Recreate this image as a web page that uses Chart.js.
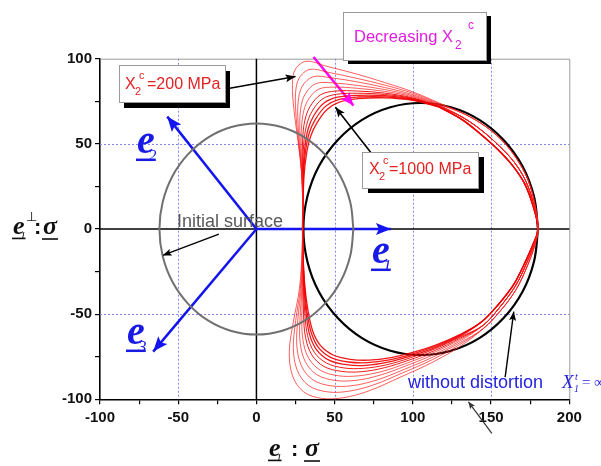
<!DOCTYPE html>
<html><head><meta charset="utf-8">
<script src="https://cdn.jsdelivr.net/npm/chart.js@4.4.0/dist/chart.umd.min.js"></script>
<style>html,body{margin:0;padding:0;background:#fff}#wrap{width:601px;height:466px}</style>
</head><body><div id="wrap"><canvas id="c" width="601" height="466"></canvas></div>
<script>
// ---- data ----
const xTickValues = [-100, -50, 0, 50, 100, 150, 200];
const yTickValues = [-100, -50, 0, 50, 100];
const gridX = [-50, 50, 100, 150];
const gridY = [-50, 50];

// initial surface (grey)
const initialSurface = [[62,0],[59.9,16],[53.7,31],[43.8,43.8],[31,53.7],[16,59.9],[0,62],[-16,59.9],[-31,53.7],[-43.8,43.8],[-53.7,31],[-59.9,16],[-62,0],[-59.9,-16],[-53.7,-31],[-43.8,-43.8],[-31,-53.7],[-16,-59.9],[0,-62],[16,-59.9],[31,-53.7],[43.8,-43.8],[53.7,-31],[59.9,-16],[62,0]];

// surface without distortion (black)
const noDistortion = [[180,0],[177.4,19.2],[170,37],[158,52.3],[142.5,64.1],[124.4,71.5],[105,74],[85.6,71.5],[67.5,64.1],[52,52.3],[40,37],[32.6,19.2],[30,0],[32.6,-19.2],[40,-37],[52,-52.3],[67.5,-64.1],[85.6,-71.5],[105,-74],[124.4,-71.5],[142.5,-64.1],[158,-52.3],[170,-37],[177.4,-19.2],[180,0]];

// right-hand arcs of the distorted surfaces (outer, middle, inner groups)
const rightArcA = [[145,-58.5],[156,-48],[166,-35.5],[173.5,-21],[178,-9.5],[180,0],[178,14.5],[173.5,29],[166.5,41],[157.5,51.5],[146,60.5],[133,67.5]];
const rightArcB = [[145,-56.5],[155.5,-46],[165.5,-33.5],[173,-19.5],[177.5,-9],[180,0],[177.5,13.5],[172.5,27.5],[165,39],[155.5,48.5],[144.5,57.5],[132,65.5]];
const rightArcC = [[144,-54.5],[154.5,-44.5],[164.5,-32.5],[172,-19],[177,-8.5],[180,0],[177,13],[171.5,26.5],[163.5,37.5],[154,47],[143,56],[131,64.5]];

// distorted surfaces, from X2c = 200 MPa (outer) to X2c = 1000 MPa (inner)
const red1 = [[118,73.5],[100,80.5],[82,86],[64,91],[45,95.5],[32,98.5],[25,94],[23,85],[24,70],[26.5,52],[29,32],[29.5,10],[29.2,-12],[27.5,-35],[23.5,-55],[21,-72],[23,-86],[30,-95.5],[42,-99.5],[56,-99],[72,-95],[92,-87],[112,-78.5],[130,-69]];
const red2 = [[118,73.2],[100,79.7],[82,84.5],[64,88.5],[46.4,91.9],[34.2,93.7],[27.3,88.6],[25,79.7],[25.4,65.6],[27.2,48.6],[29.1,29.3],[29.5,8.3],[29.3,-12.7],[28.1,-34.8],[25.1,-53.8],[23.6,-70],[26.1,-83],[33.2,-91.8],[45.1,-95.6],[58.7,-95.3],[74.4,-91.7],[93.4,-84.5],[112.5,-76.7],[130,-67.8]];
const red3 = [[117.5,72.9],[100,78.9],[82,83.1],[64.3,86.4],[47.6,88.8],[36.2,89.4],[29.3,83.8],[26.7,75.1],[26.6,61.7],[27.8,45.6],[29.3,26.9],[29.5,6.8],[29.4,-13.3],[28.6,-34.7],[26.5,-52.8],[25.8,-68.2],[28.8,-80.4],[36.1,-88.6],[47.8,-92.1],[61.1,-92],[76.5,-88.8],[94.6,-82.4],[113,-75.1],[130,-66.8]];
const red4 = [[117.5,72.6],[100,78.2],[82,81.9],[64.5,84.3],[48.7,85.8],[38,85.4],[31.2,79.3],[28.3,70.7],[27.7,58],[28.3,42.8],[29.4,24.6],[29.5,5.4],[29.5,-13.8],[29.1,-34.5],[27.9,-51.8],[27.9,-66.5],[31.3,-78],[38.7,-85.6],[50.3,-88.9],[63.4,-88.9],[78.4,-86],[95.7,-80.3],[113.4,-73.7],[130,-65.8]];
const red5 = [[117.5,72.3],[100,77.6],[82,80.8],[64.6,82.6],[49.6,83.3],[39.5,82],[32.8,75.4],[29.7,67],[28.6,54.9],[28.8,40.4],[29.5,22.7],[29.5,4.2],[29.5,-14.3],[29.5,-34.4],[29,-50.9],[29.7,-65],[33.4,-75.9],[41,-83],[52.4,-86.2],[65.3,-86.2],[80.1,-83.7],[96.6,-78.6],[113.7,-72.4],[130,-64.9]];
const red6 = [[117.5,72.1],[100,77],[82,79.8],[64.7,81],[50.5,81],[41,78.8],[34.3,71.9],[30.9,63.6],[29.5,52.1],[29.3,38.2],[29.6,21],[29.5,3.1],[29.6,-14.8],[29.9,-34.3],[30.1,-50.2],[31.4,-63.7],[35.4,-73.9],[43.1,-80.7],[54.4,-83.6],[67,-83.8],[81.7,-81.5],[97.5,-77],[114.1,-71.3],[130,-64.2]];
const red7 = [[117,71.9],[100,76.6],[82,79],[64.8,79.7],[51.2,79.1],[42.1,76.3],[35.5,69],[32,60.8],[30.2,49.7],[29.6,36.4],[29.6,19.5],[29.5,2.2],[29.7,-15.1],[30.2,-34.2],[30.9,-49.5],[32.7,-62.6],[37,-72.4],[44.8,-78.7],[56,-81.6],[68.5,-81.8],[82.9,-79.8],[98.2,-75.7],[114.3,-70.3],[130,-63.5]];
const red8 = [[117,71.8],[100,76.2],[82,78.3],[64.9,78.5],[51.9,77.4],[43.2,74],[36.6,66.5],[32.9,58.3],[30.9,47.6],[29.9,34.8],[29.7,18.2],[29.5,1.4],[29.7,-15.4],[30.5,-34.1],[31.7,-49],[33.9,-61.7],[38.5,-71],[46.3,-77],[57.5,-79.7],[69.8,-80.1],[84,-78.2],[98.9,-74.5],[114.6,-69.5],[130,-63]];
const red9 = [[117,71.6],[100,75.9],[82,77.6],[64.9,77.5],[52.4,76],[44.1,72],[37.6,64.2],[33.7,56.2],[31.4,45.8],[30.2,33.4],[29.7,17.1],[29.5,0.7],[29.8,-15.7],[30.8,-34.1],[32.3,-48.5],[35,-60.8],[39.7,-69.7],[47.7,-75.5],[58.7,-78.1],[70.9,-78.5],[85,-76.9],[99.4,-73.5],[114.8,-68.7],[130,-62.5]];
const red10 = [[117,71.5],[100,75.5],[82,77],[65,76.5],[53,74.5],[45,70],[38.5,62],[34.5,54],[32,44],[30.5,32],[29.8,16],[29.5,0],[29.8,-16],[31,-34],[33,-48],[36,-60],[41,-68.5],[49,-74],[60,-76.5],[72,-77],[86,-75.5],[100,-72.5],[115,-68],[130,-62]];
const redCurves = [red1, red2, red3, red4, red5, red6, red7, red8, red9, red10];
const redArcs = [rightArcA, rightArcA, rightArcA, rightArcB, rightArcB, rightArcB, rightArcB, rightArcC, rightArcC, rightArcC];

// basis vectors (blue)
const vecE1 = [[0,0],[86,0]];
const vecE2 = [[0,0],[-57,66]];
const vecE3 = [[0,0],[-66,-72]];

// annotation arrows
const arrow200 = [[-18,82.5],[25,89.5]];
const arrow1000 = [[73,45],[50.5,71.5]];
const arrowInitial = [[-24,-3],[-60,-15.5]];
const arrowNoDist = [[159,-87],[164.5,-48.5]];
const arrowBelow = [[150.5,-120],[135.5,-101.5]];
const arrowDecreasing = [[36.5,101],[62,72.5]];

// ---- build chart ----
const pts = a => a.map(p => ({x: p[0], y: p[1]}));
const datasets = [];
const lineDs = (data, color, width, extra) => Object.assign({
  data: pts(data), showLine: true, borderColor: color, borderWidth: width,
  pointRadius: 0, fill: false, tension: 0
}, extra || {});

datasets.push(lineDs(initialSurface, '#707070', 2, {tension: 0.4}));
redCurves.forEach((c, i) => {
  const closed = c.concat(redArcs[i], [c[0]]);
  datasets.push(lineDs(closed, i < 5 ? 'rgba(255,30,30,0.72)' : 'rgba(240,0,0,0.9)', i < 7 ? 1 : 1.3, {tension: 0.35}));
});
datasets.push(lineDs(noDistortion, '#000', 2.2, {tension: 0.4}));
datasets.push(lineDs(vecE1, '#1414f0', 2.5, {arrow: [15, 6]}));
datasets.push(lineDs(vecE2, '#1414f0', 2.5, {arrow: [15, 6]}));
datasets.push(lineDs(vecE3, '#1414f0', 2.5, {arrow: [15, 6]}));
datasets.push(lineDs(arrow200, '#000', 1.6, {arrow: [10, 4], clip: false}));
datasets.push(lineDs(arrow1000, '#000', 1.6, {arrow: [10, 4], clip: false}));
datasets.push(lineDs(arrowInitial, '#000', 1.4, {arrow: [9, 3.5], clip: false}));
datasets.push(lineDs(arrowNoDist, '#000', 1.4, {arrow: [9, 3.5], clip: false}));
datasets.push(lineDs(arrowBelow, '#333', 1.2, {arrow: [7, 3], clip: false}));
datasets.push(lineDs(arrowDecreasing, '#ff00ff', 2.5, {arrow: [13, 5.5], clip: false}));

function drawSupSub(ctx, x, base, sub, sup, subSize, dySub, dySup, supDx, family, color) {
  ctx.font = subSize + 'px ' + family;
  ctx.fillStyle = color;
  ctx.fillText(sub, x, base + dySub);
  ctx.fillText(sup, x + supDx, base - dySup);
}
function box(ctx, x, y, w, h, dx, dy) {
  ctx.fillStyle = '#000';
  ctx.fillRect(x + dx, y + dy, w, h);
  ctx.fillStyle = '#fff';
  ctx.fillRect(x, y, w, h);
  ctx.strokeStyle = '#9a9a9a';
  ctx.lineWidth = 1;
  ctx.strokeRect(x + 0.5, y + 0.5, w, h);
}
function vecLabel(ctx, x, base, digit, size, color) {
  ctx.fillStyle = color;
  ctx.strokeStyle = color;
  ctx.font = 'bold italic ' + size + 'px "Liberation Serif"';
  const w = ctx.measureText('e').width;
  ctx.fillText('e', x, base);
  ctx.font = 'italic ' + Math.round(size * 0.42) + 'px "Liberation Serif"';
  ctx.fillText(digit, x + w * 0.62, base + size * 0.2);
  ctx.lineWidth = Math.max(1.2, size / 16);
  ctx.beginPath();
  ctx.moveTo(x - 1, base + size * 0.17);
  ctx.lineTo(x + w + 1, base + size * 0.17);
  ctx.stroke();
  return w;
}

const deco = {
  id: 'deco',
  beforeDatasetsDraw(chart) {
    const {ctx, chartArea: a, scales: {x, y}} = chart;
    ctx.save();
    ctx.strokeStyle = '#8484ee';
    ctx.lineWidth = 1;
    ctx.setLineDash([2, 2]);
    gridX.forEach(v => {
      const p = Math.round(x.getPixelForValue(v)) + 0.5;
      ctx.beginPath(); ctx.moveTo(p, a.top); ctx.lineTo(p, a.bottom); ctx.stroke();
    });
    gridY.forEach(v => {
      const p = Math.round(y.getPixelForValue(v)) + 0.5;
      ctx.beginPath(); ctx.moveTo(a.left, p); ctx.lineTo(a.right, p); ctx.stroke();
    });
    ctx.setLineDash([]);
    ctx.strokeStyle = '#9a9a9a';
    ctx.beginPath();
    ctx.moveTo(a.left, a.top + 0.5); ctx.lineTo(a.right + 0.5, a.top + 0.5); ctx.lineTo(a.right + 0.5, a.bottom);
    ctx.stroke();
    ctx.strokeStyle = '#000';
    ctx.lineWidth = 1.5;
    const x0 = x.getPixelForValue(0), y0 = y.getPixelForValue(0);
    ctx.beginPath(); ctx.moveTo(x0, a.top); ctx.lineTo(x0, a.bottom); ctx.stroke();
    ctx.beginPath(); ctx.moveTo(a.left, y0); ctx.lineTo(a.right, y0); ctx.stroke();
    ctx.restore();
  },
  afterDatasetsDraw(chart) {
    const ctx = chart.ctx;
    ctx.save();
    chart.data.datasets.forEach((ds, i) => {
      if (!ds.arrow) return;
      const el = chart.getDatasetMeta(i).data;
      const p1 = el[el.length - 2], p2 = el[el.length - 1];
      const ang = Math.atan2(p2.y - p1.y, p2.x - p1.x);
      const [L, W] = ds.arrow;
      ctx.fillStyle = ds.borderColor;
      ctx.beginPath();
      ctx.moveTo(p2.x, p2.y);
      ctx.lineTo(p2.x - L * Math.cos(ang) - W * Math.sin(ang), p2.y - L * Math.sin(ang) + W * Math.cos(ang));
      ctx.lineTo(p2.x - L * 0.8 * Math.cos(ang), p2.y - L * 0.8 * Math.sin(ang));
      ctx.lineTo(p2.x - L * Math.cos(ang) + W * Math.sin(ang), p2.y - L * Math.sin(ang) - W * Math.cos(ang));
      ctx.closePath();
      ctx.fill();
    });
    ctx.restore();
  },
  afterDraw(chart) {
    const ctx = chart.ctx;
    ctx.save();
    ctx.textBaseline = 'alphabetic';
    const sans = '"Liberation Sans", Arial, sans-serif';
    // box: X2c = 200 MPa
    box(ctx, 119, 65, 106, 37, 5, 6);
    ctx.fillStyle = '#e32222';
    ctx.font = '16px ' + sans;
    ctx.fillText('X', 125, 89);
    drawSupSub(ctx, 135, 89, '2', 'c', 11, 6, 10, 4, sans, '#e32222');
    ctx.font = '16px ' + sans;
    ctx.fillText('=200 MPa', 147, 89);
    // box: Decreasing X2c
    box(ctx, 343, 12, 143, 48, 5, 4);
    ctx.fillStyle = '#e01ee0';
    ctx.font = '16.5px ' + sans;
    const dw = ctx.measureText('Decreasing X').width;
    ctx.fillText('Decreasing X', 354, 42);
    drawSupSub(ctx, 354 + dw + 2, 42, '2', 'c', 12, 7, 13, 13, sans, '#e01ee0');
    // box: X2c = 1000 MPa
    box(ctx, 362, 152, 116, 36, 6, 5);
    ctx.fillStyle = '#e32222';
    ctx.font = '16px ' + sans;
    ctx.fillText('X', 369, 174);
    drawSupSub(ctx, 379, 174, '2', 'c', 11, 6, 10, 4, sans, '#e32222');
    ctx.font = '16px ' + sans;
    ctx.fillText('=1000 MPa', 389, 174);
    // initial surface
    ctx.fillStyle = '#5a5a5a';
    ctx.font = '18px ' + sans;
    ctx.fillText('Initial surface', 177, 227);
    // without distortion
    ctx.fillStyle = '#2323e0';
    ctx.font = '18px ' + sans;
    ctx.fillText('without distortion', 408, 388);
    ctx.font = 'italic 19px "Liberation Serif"';
    ctx.fillText('X', 562, 388);
    ctx.font = 'italic 10px "Liberation Serif"';
    ctx.fillText('1', 574, 392);
    ctx.fillText('t', 575, 380);
    ctx.font = '15px "Liberation Serif"';
    ctx.fillText('= \u221E', 582, 387);
    // basis vector labels
    vecLabel(ctx, 137, 153, '2', 40, '#1a1ae6');
    vecLabel(ctx, 372, 263, '1', 40, '#1a1ae6');
    vecLabel(ctx, 127, 344, '3', 40, '#1a1ae6');
    // axis titles
    const axCol = '#111';
    vecLabel(ctx, 269, 456, '1', 26, axCol);
    ctx.font = 'bold 22px ' + sans;
    ctx.fillText(':', 291, 456);
    ctx.font = 'bold italic 26px "Liberation Serif"';
    const sw = ctx.measureText('\u03C3').width;
    ctx.fillText('\u03C3', 305, 456);
    ctx.lineWidth = 1.6;
    ctx.beginPath(); ctx.moveTo(304, 461); ctx.lineTo(306 + sw, 461); ctx.stroke();
    vecLabel(ctx, 13, 234, '1', 26, axCol);
    ctx.font = '13px "DejaVu Sans"';
    ctx.fillText('\u22A5', 26, 221);
    ctx.font = 'bold 22px ' + sans;
    ctx.fillText(':', 34, 234);
    ctx.font = 'bold italic 26px "Liberation Serif"';
    ctx.fillText('\u03C3', 43, 234);
    ctx.beginPath(); ctx.moveTo(42, 239); ctx.lineTo(44 + sw, 239); ctx.stroke();
    ctx.restore();
  }
};

const tickFont = {family: '"Liberation Sans", Arial, sans-serif', size: 15, weight: 'bold'};
new Chart(document.getElementById('c'), {
  type: 'scatter',
  data: {datasets},
  options: {
    responsive: false,
    animation: false,
    layout: {padding: {top: 58.7, right: 31.7, bottom: 0, left: 0}},
    plugins: {legend: {display: false}, tooltip: {enabled: false}},
    elements: {line: {cubicInterpolationMode: 'default'}},
    scales: {
      x: {
        type: 'linear', min: -100, max: 200,
        afterFit: s => { s.height = 66.7; },
        ticks: {stepSize: 25, autoSkip: false, maxRotation: 0, padding: 5, color: '#111', font: tickFont,
          callback: v => xTickValues.includes(v) ? String(v) : ''},
        grid: {drawOnChartArea: false, tickLength: 5, color: '#000', lineWidth: 1.2},
        border: {color: '#000', width: 1.6}
      },
      y: {
        type: 'linear', min: -100, max: 100,
        afterFit: s => { s.width = 100; },
        ticks: {stepSize: 25, autoSkip: false, padding: 3, color: '#111', font: tickFont,
          callback: v => yTickValues.includes(v) ? String(v) : ''},
        grid: {drawOnChartArea: false, tickLength: 5, color: '#000', lineWidth: 1.2},
        border: {color: '#000', width: 1.6}
      }
    }
  },
  plugins: [deco]
});
</script>
</body></html>
